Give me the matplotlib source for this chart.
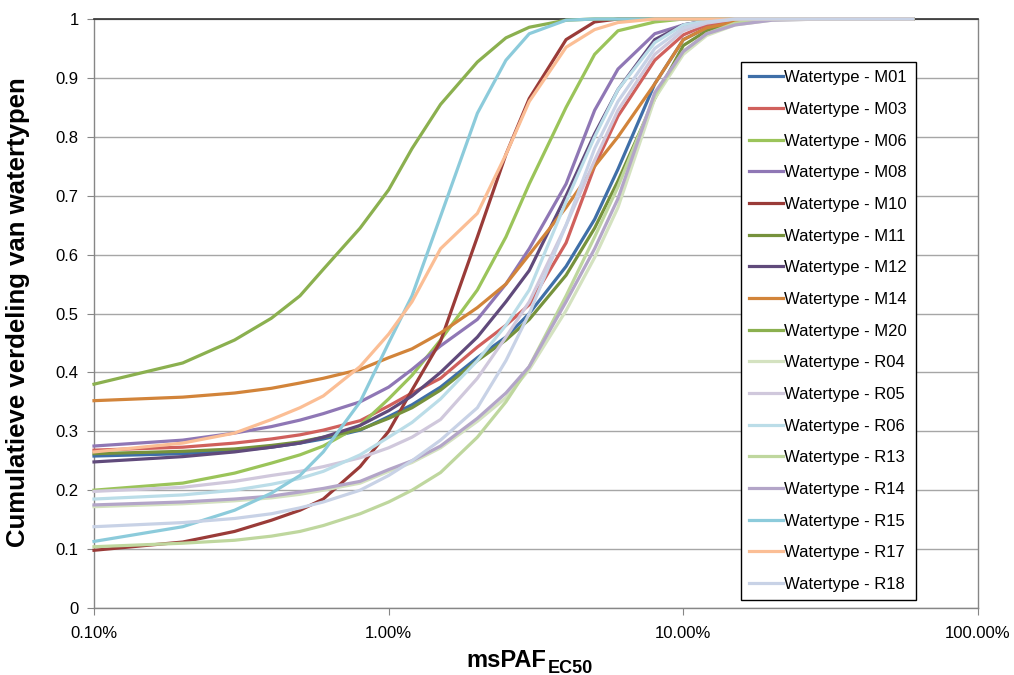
import numpy as np
import matplotlib
matplotlib.use('Agg')
import matplotlib.pyplot as plt
from matplotlib.ticker import FixedLocator, FuncFormatter, NullLocator

plt.rcParams['font.family'] = ['Liberation Sans', 'DejaVu Sans']

# msPAF (%) sample points
x_pct = [0.1, 0.2, 0.3, 0.4, 0.5, 0.6, 0.8, 1.0, 1.2, 1.5, 2, 2.5, 3, 4, 5, 6, 8, 10, 12, 15, 20, 30, 60]

M01 = [0.258, 0.262, 0.267, 0.273, 0.28, 0.287, 0.302, 0.325, 0.345, 0.375, 0.425, 0.46, 0.5, 0.58, 0.66, 0.745, 0.89, 0.965, 0.985, 0.997, 1, 1, 1]
M03 = [0.268, 0.273, 0.28, 0.287, 0.294, 0.302, 0.318, 0.343, 0.365, 0.39, 0.443, 0.48, 0.515, 0.62, 0.75, 0.835, 0.93, 0.973, 0.99, 0.998, 1, 1, 1]
M06 = [0.2, 0.212, 0.229, 0.246, 0.26, 0.275, 0.31, 0.355, 0.395, 0.455, 0.54, 0.63, 0.72, 0.85, 0.94, 0.98, 0.995, 1, 1, 1, 1, 1, 1]
M08 = [0.275, 0.285, 0.297, 0.308, 0.319, 0.33, 0.35, 0.375, 0.405, 0.445, 0.49, 0.55, 0.61, 0.72, 0.845, 0.915, 0.975, 0.99, 0.997, 1, 1, 1, 1]
M10 = [0.098, 0.112, 0.13, 0.149, 0.166, 0.185, 0.24, 0.3, 0.37, 0.453, 0.63, 0.77, 0.865, 0.965, 0.995, 1, 1, 1, 1, 1, 1, 1, 1]
M11 = [0.262, 0.266, 0.27, 0.276, 0.282, 0.29, 0.303, 0.322, 0.34, 0.37, 0.42, 0.455, 0.49, 0.565, 0.645, 0.725, 0.865, 0.955, 0.98, 0.995, 1, 1, 1]
M12 = [0.248, 0.257, 0.265, 0.273, 0.28, 0.29, 0.31, 0.335, 0.36, 0.4, 0.46, 0.52, 0.573, 0.7, 0.805, 0.88, 0.965, 0.99, 0.997, 1, 1, 1, 1]
M14 = [0.352, 0.358, 0.365, 0.373, 0.382, 0.39, 0.405, 0.425, 0.44, 0.467, 0.51, 0.55, 0.6, 0.68, 0.75, 0.8, 0.89, 0.965, 0.985, 0.995, 1, 1, 1]
M20 = [0.38, 0.416, 0.455, 0.492, 0.53, 0.575, 0.645, 0.71, 0.78, 0.855, 0.927, 0.968, 0.986, 0.998, 1, 1, 1, 1, 1, 1, 1, 1, 1]
R04 = [0.172, 0.177, 0.182, 0.187, 0.193, 0.2, 0.212, 0.232, 0.247, 0.272, 0.317, 0.357, 0.405, 0.505, 0.595, 0.68, 0.865, 0.94, 0.972, 0.99, 0.998, 1, 1]
R05 = [0.198, 0.205, 0.215, 0.225, 0.232, 0.24, 0.255, 0.272, 0.29, 0.32, 0.39, 0.46, 0.52, 0.65, 0.76, 0.845, 0.94, 0.98, 0.993, 1, 1, 1, 1]
R06 = [0.185, 0.192, 0.2, 0.21, 0.22, 0.232, 0.26, 0.29, 0.315, 0.355, 0.42, 0.48, 0.54, 0.69, 0.8, 0.88, 0.96, 0.99, 0.997, 1, 1, 1, 1]
R13 = [0.104, 0.11, 0.115, 0.122, 0.13, 0.14, 0.16, 0.18, 0.2, 0.23, 0.29, 0.35, 0.41, 0.53, 0.63, 0.715, 0.87, 0.945, 0.975, 0.993, 1, 1, 1]
R14 = [0.175, 0.18, 0.185, 0.19, 0.197, 0.203, 0.215, 0.235, 0.25, 0.275, 0.322, 0.365, 0.41, 0.52, 0.61, 0.695, 0.875, 0.945, 0.975, 0.99, 0.998, 1, 1]
R15 = [0.113, 0.138, 0.166, 0.195, 0.225, 0.265, 0.35, 0.45, 0.53, 0.665, 0.84, 0.93, 0.975, 0.998, 1, 1, 1, 1, 1, 1, 1, 1, 1]
R17 = [0.265, 0.28, 0.297, 0.32, 0.34, 0.36, 0.41, 0.465, 0.52, 0.61, 0.67, 0.77, 0.86, 0.952, 0.982, 0.994, 1, 1, 1, 1, 1, 1, 1]
R18 = [0.138, 0.145, 0.152, 0.16, 0.17, 0.18, 0.2, 0.225, 0.25, 0.285, 0.34, 0.42, 0.5, 0.65, 0.78, 0.86, 0.95, 0.985, 0.995, 1, 1, 1, 1]

names = ['M01', 'M03', 'M06', 'M08', 'M10', 'M11', 'M12', 'M14', 'M20',
         'R04', 'R05', 'R06', 'R13', 'R14', 'R15', 'R17', 'R18']
series = [M01, M03, M06, M08, M10, M11, M12, M14, M20,
          R04, R05, R06, R13, R14, R15, R17, R18]
colors = ['#3F6FA8', '#D0605C', '#9BC45A', '#8F77B5', '#9A3B38', '#76923C',
          '#604A7B', '#D2843A', '#8BB04F', '#D4E2C0', '#D0C8DC', '#BBDDE8',
          '#BFD79E', '#B3A5C8', '#8CCBDB', '#FBBE95', '#C8D2E6']

x_ticks = [0.1, 1, 10, 100]
y_ticks = [0, 0.1, 0.2, 0.3, 0.4, 0.5, 0.6, 0.7, 0.8, 0.9, 1]

fig = plt.figure(figsize=(10.14, 6.75), dpi=100)
ax = fig.add_axes([94/1014, 1-608/675, (978-94)/1014, (608-19)/675])

for name, vals, c in zip(names, series, colors):
    ax.plot(x_pct, vals, color=c, lw=2.3, label='Watertype - ' + name,
            zorder=3, clip_on=False, solid_joinstyle='round')

ax.set_xscale('log')
ax.set_xlim(0.1, 100)
ax.set_ylim(0, 1)
ax.xaxis.set_major_locator(FixedLocator(x_ticks))
ax.xaxis.set_minor_locator(NullLocator())
ax.xaxis.set_major_formatter(FuncFormatter(lambda v, p: '%.2f%%' % v))
ax.yaxis.set_major_locator(FixedLocator(y_ticks))
ax.yaxis.set_major_formatter(FuncFormatter(lambda v, p: '%g' % v))

ax.yaxis.grid(True, color='#A6A6A6', lw=1.0, zorder=1)
ax.set_axisbelow(True)
for s in ['left', 'bottom', 'right']:
    ax.spines[s].set_color('#868686')
    ax.spines[s].set_linewidth(1.0)
ax.spines['top'].set_color('#303030')
ax.spines['top'].set_linewidth(1.2)
ax.tick_params(axis='both', direction='out', length=5, color='#868686',
               labelsize=12, pad=6)
ax.tick_params(axis='x', pad=8)

# x label: msPAF with subscript EC50
fig.text(546/1014, 8/675, 'msPAF', ha='right', va='baseline',
         fontsize=17, fontweight='bold')
fig.text(548/1014, 2/675, 'EC50', ha='left', va='baseline',
         fontsize=13, fontweight='bold')
fig.text(18/1014, 1-312/675, 'Cumulatieve verdeling van watertypen',
         rotation=90, ha='center', va='center', fontsize=18.5, fontweight='bold')

leg = ax.legend(loc='upper left', bbox_to_anchor=(0.732, 0.927),
                borderaxespad=0, fancybox=False, framealpha=1,
                edgecolor='#000000', fontsize=12, handlelength=2.0,
                handletextpad=0.1, labelspacing=1.0, borderpad=0.5)
leg.get_frame().set_linewidth(1.0)

fig.savefig('out.png', dpi=100)
